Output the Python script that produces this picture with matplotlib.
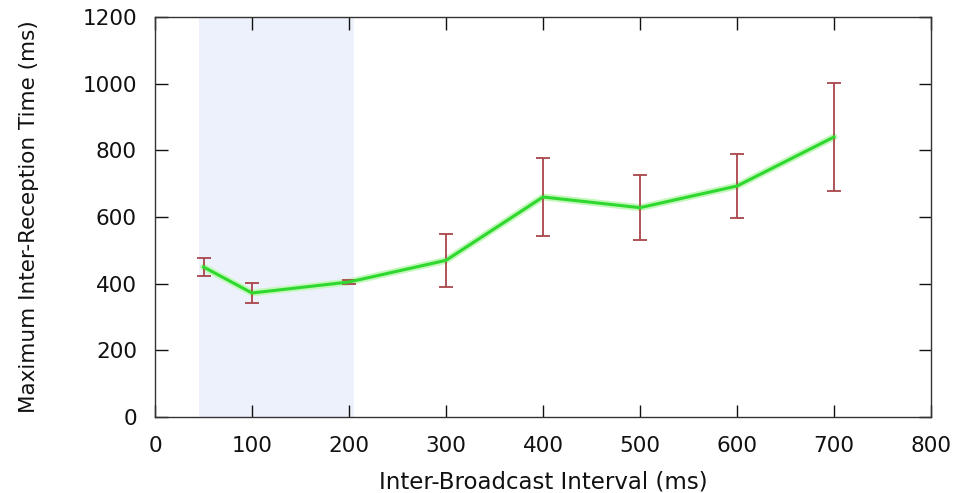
import numpy as np
import matplotlib
matplotlib.use("Agg")
from matplotlib import pyplot as plt

# data
interval = [50, 100, 200, 300, 400, 500, 600, 700]
max_irt = [450, 372, 405, 470, 660, 628, 693, 840]
err = [28, 30, 6, 80, 117, 97, 97, 161]
shade_lo, shade_hi = 45, 205

plt.rcParams['font.family'] = ['DejaVu Sans']

fig = plt.figure(figsize=(9.61, 4.93), dpi=100)
ax = fig.add_axes([0.1613, 0.1542, 0.8075, 0.8113])

ax.axvspan(shade_lo, shade_hi, color='#edf1fc', zorder=0, lw=0)

# light halo under the line
ax.plot(interval, max_irt, color='#c4f7bc', lw=5, zorder=2, solid_capstyle='round')
ax.errorbar(interval, max_irt, yerr=err, fmt='none', ecolor='#a8464a',
            elinewidth=1.3, capsize=5, capthick=1.3, zorder=3)
ax.plot(interval, max_irt, color='#2ed82e', lw=2.2, zorder=4)

ax.set_xlim(0, 800)
ax.set_ylim(0, 1200)
ax.set_xticks(np.arange(0, 801, 100))
ax.set_yticks(np.arange(0, 1201, 200))

ax.tick_params(direction='in', length=9, width=1, top=True, right=True,
               labelsize=15.5, colors='#111111')
ax.tick_params(axis='x', pad=14)
ax.tick_params(axis='y', pad=13)
for s in ax.spines.values():
    s.set_linewidth(1)
    s.set_color('#333333')

ax.set_xlabel('Inter-Broadcast Interval (ms)', fontsize=16.5, labelpad=10, color='#111111')
ax.set_ylabel('Maximum Inter-Reception Time (ms)', fontsize=15.5, labelpad=31, color='#111111')

fig.savefig('out.png', dpi=100)
